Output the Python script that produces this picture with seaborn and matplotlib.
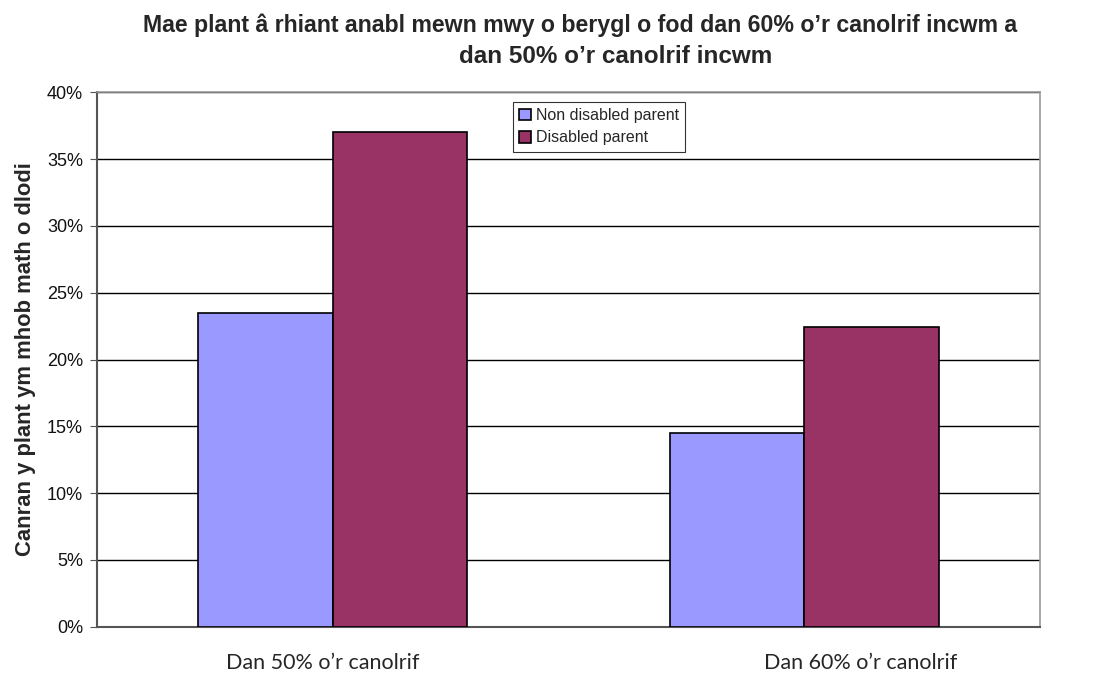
import pandas as pd
import matplotlib
matplotlib.use('Agg')
import matplotlib.pyplot as plt
import matplotlib.transforms as mtransforms
import seaborn as sns

# values (percent)
categories = ['Dan 50% o\u2019r canolrif', 'Dan 60% o\u2019r canolrif']
groups = ['Non disabled parent', 'Disabled parent']
non_disabled = [23.5, 14.5]
disabled = [37.0, 22.4]
colors = ['#9999FF', '#993366']

df = pd.DataFrame({
    'cat': categories * 2,
    'grp': [groups[0]] * 2 + [groups[1]] * 2,
    'val': non_disabled + disabled,
})

sns.set_style('white')
plt.rcParams['font.family'] = ['Liberation Sans', 'DejaVu Sans']

fig = plt.figure(figsize=(10.97, 6.73), dpi=100)
ax = fig.add_axes([97 / 1097, 1 - 626.7 / 673, 943 / 1097, 534.4 / 673])

sns.barplot(data=df, x='cat', y='val', hue='grp', order=categories, hue_order=groups,
            palette=colors, width=0.571, gap=0, edgecolor='black', linewidth=1.2,
            saturation=1, ax=ax, zorder=3)

ax.set_xlim(-0.5, 1.5)
ax.set_ylim(0, 40)
yt = list(range(0, 41, 5))
ax.set_yticks(yt)
ax.set_yticklabels([f'{v}%' for v in yt], fontsize=13, color='#111111')
for v in yt[1:]:
    ax.axhline(v, color='black', lw=1, zorder=1)

ax.set_xticks([0, 1])
ax.set_xticklabels(categories, fontsize=15.5, family=['Lato', 'DejaVu Sans'])
ax.set_xticks([-0.5, 0.5, 1.5], minor=True)
ax.tick_params(axis='x', which='major', length=0, pad=19)
ax.tick_params(axis='x', which='minor', length=5, direction='out', color='#555555')
ax.tick_params(axis='y', length=5, direction='out', color='#555555', left=True, pad=5)

# the category labels in the original sit a little off the group centres
for lab, dx in zip(ax.get_xticklabels(), [-10, 56]):
    lab.set_transform(lab.get_transform() + mtransforms.ScaledTranslation(dx / 100, 0, fig.dpi_scale_trans))

for s in ['top', 'right']:
    ax.spines[s].set_color('#999999')
    ax.spines[s].set_linewidth(1.2)
for s in ['left', 'bottom']:
    ax.spines[s].set_color('#555555')
    ax.spines[s].set_linewidth(1.5)

ax.set_xlabel('')
ax.set_ylabel('Canran y plant ym mhob math o dlodi', fontsize=15.8, fontweight='bold', labelpad=8)

leg = ax.legend(loc='upper left', bbox_to_anchor=(512.5 / 1097, 1 - 101.7 / 673),
                bbox_transform=fig.transFigure, frameon=True, fancybox=False,
                fontsize=11.5, handlelength=0.75, handleheight=0.75, handletextpad=0.3,
                borderpad=0.4, labelspacing=0.45, borderaxespad=0)
leg.get_frame().set_edgecolor('black')
leg.get_frame().set_linewidth(0.8)

fig.text(580 / 1097, 1 - 32 / 673, 'Mae plant \u00e2 rhiant anabl mewn mwy o berygl o fod dan 60% o\u2019r canolrif incwm a',
         ha='center', va='baseline', fontsize=16.7, fontweight='bold')
fig.text(616 / 1097, 1 - 63 / 673, 'dan 50% o\u2019r canolrif incwm',
         ha='center', va='baseline', fontsize=17.5, fontweight='bold')

fig.savefig('out.png', dpi=100, facecolor='white')
